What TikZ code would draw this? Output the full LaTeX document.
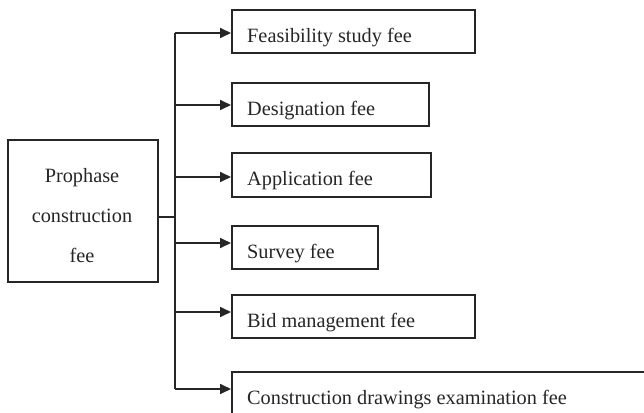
\documentclass[tikz,border=0pt]{standalone}
\usepackage{fontspec}
\setmainfont{Liberation Serif}
\usetikzlibrary{arrows.meta,calc}
\begin{document}
\begin{tikzpicture}[x=1pt,y=-1pt,
  frame/.style={draw=black!85, line width=1.7pt, inner sep=0pt, anchor=north west},
  lbl/.style={font=\fontsize{20.3}{24}\selectfont, inner sep=0pt, text=black!85},
  wire/.style={draw=black!85, line width=1.7pt},
  feed/.style={wire, -{Triangle[length=11pt,width=10pt]}}]
\useasboundingbox (0,0) rectangle (644,412);
\clip (0,0) rectangle (644,412);
\fill[white] (0,0) rectangle (644,412);

% source box
\node[frame, minimum width=150pt, minimum height=142pt] (main) at (7,139) {};
\node[lbl, anchor=base] (m1) at (82,182) {Prophase};
\node[lbl, anchor=base] (m2) at (82,222) {construction};
\node[lbl, anchor=base] (m3) at (82,262) {fee};

% cost item boxes
\node[frame, minimum width=243pt, minimum height=43pt] (b1) at (231,9) {};
\node[frame, minimum width=197pt, minimum height=43pt] (b2) at (231,82) {};
\node[frame, minimum width=199pt, minimum height=44pt] (b3) at (231,152) {};
\node[frame, minimum width=146pt, minimum height=43pt] (b4) at (231,225) {};
\node[frame, minimum width=243pt, minimum height=43pt] (b5) at (231,294) {};
\node[frame, minimum width=440pt, minimum height=60pt] (b6) at (231,371) {};

\foreach \b/\t in {b1/Feasibility study fee, b2/Designation fee, b3/Application fee,
                   b4/Survey fee, b5/Bid management fee, b6/Construction drawings examination fee}
  \node[lbl, anchor=base west] (\b t) at ($(\b.north west)+(16,33)$) {\t};

% trunk and branches
\coordinate (j) at (175,217);
\coordinate (top) at (175,33);
\coordinate (bot) at (175,389);
\draw[wire] (main.east |- j) -- (j);
\draw[wire] (top) -- (bot);
\draw[feed] (top) -- (b1.west |- top);
\draw[feed] (175,105) -- (b2.west |- 0,105);
\draw[feed] (175,177) -- (b3.west |- 0,177);
\draw[feed] (175,243) -- (b4.west |- 0,243);
\draw[feed] (175,312) -- (b5.west |- 0,312);
\draw[feed] (bot) -- (b6.west |- bot);
\end{tikzpicture}
\end{document}
